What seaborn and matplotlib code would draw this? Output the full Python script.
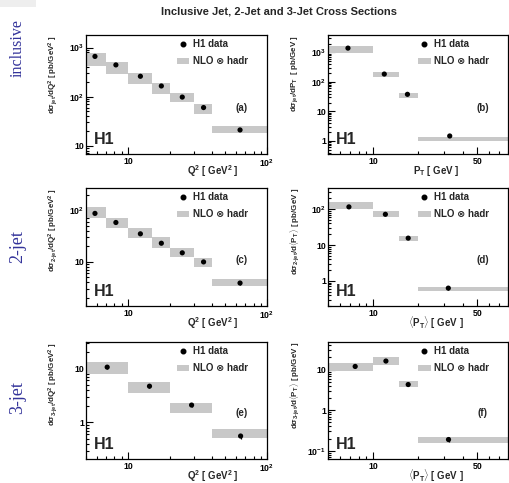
import numpy as np
import pandas as pd
import seaborn as sns
import matplotlib
matplotlib.use("Agg")
import matplotlib.pyplot as plt
from matplotlib.ticker import FixedLocator, LogLocator, FuncFormatter, NullFormatter
from matplotlib.lines import Line2D
from matplotlib.patches import Patch, Rectangle

# ---------------- data ----------------
# bin edges
q2_edges_fine = [5, 7, 10, 15, 20, 30, 40, 100]
q2_edges_3jet = [5, 10, 20, 40, 100]
pt_edges = [5, 10, 15, 20, 80]

# (a) inclusive jet vs Q^2
a_x = [5.8, 8.2, 12.3, 17.4, 24.6, 35.0, 64.0]
a_y = [660, 443, 260, 165, 98, 60, 21]
a_err = [25, 15, 9, 6, 4, 2.5, 1.0]
a_nlo_lo = [430, 290, 180, 114, 77, 45, 18]
a_nlo_hi = [790, 510, 300, 188, 120, 71, 25]

# (b) inclusive jet vs P_T
b_x = [6.8, 11.9, 17.0, 32.6]
b_y = [1400, 185, 38, 1.47]
b_err = [60, 8, 2, 0.12]
b_nlo_lo = [980, 147, 29, 1.02]
b_nlo_hi = [1600, 215, 42, 1.40]

# (c) 2-jet vs Q^2
c_x = [5.8, 8.2, 12.3, 17.4, 24.6, 35.0, 64.0]
c_y = [87, 58, 35, 23, 15, 10, 3.9]
c_err = [4, 2.5, 1.5, 1.0, 0.7, 0.5, 0.25]
c_nlo_lo = [72, 46, 29, 19, 12.6, 7.9, 3.4]
c_nlo_hi = [115, 72, 45, 30, 19, 11.8, 4.6]

# (d) 2-jet vs <P_T>
d_x = [6.9, 12.1, 17.2, 31.9]
d_y = [116, 72, 15.6, 0.63]
d_err = [5, 3, 0.8, 0.06]
d_nlo_lo = [102, 61, 13, 0.51]
d_nlo_hi = [155, 88, 18, 0.68]

# (e) 3-jet vs Q^2
e_x = [7.1, 14.3, 28.7, 64.6]
e_y = [10.6, 4.7, 2.1, 0.56]
e_err = [0.7, 0.3, 0.15, 0.06]
e_nlo_lo = [8.0, 3.5, 1.5, 0.52]
e_nlo_hi = [13.0, 5.6, 2.3, 0.74]

# (f) 3-jet vs <P_T>
f_x = [7.6, 12.2, 17.2, 32.0]
f_y = [12, 16.3, 4.3, 0.19]
f_err = [0.8, 0.9, 0.3, 0.025]
f_nlo_lo = [9.3, 13, 3.7, 0.16]
f_nlo_hi = [15, 20, 5.4, 0.22]

row_labels = ["inclusive", "2-jet", "3-jet"]
panel_tags = ["(a)", "(b)", "(c)", "(d)", "(e)", "(f)"]
title = "Inclusive Jet, 2-Jet and 3-Jet Cross Sections"
legend_labels = ["H1 data", "NLO \u2297 hadr"]

# ---------------- style ----------------
sns.set_theme(style="ticks")
plt.rcParams.update({
    "font.family": ["Liberation Sans", "DejaVu Sans"],
    "font.weight": "bold",
    "axes.labelweight": "bold",
    "mathtext.fontset": "custom",
    "mathtext.rm": "Liberation Sans:bold",
    "mathtext.it": "Liberation Sans:bold",
    "mathtext.bf": "Liberation Sans:bold",
    "mathtext.sf": "Liberation Sans:bold",
    "axes.linewidth": 0.9,
    "axes.edgecolor": "black",
})

BOX = "#c8c8c8"
BLUE = "#33339a"

fig = plt.figure(figsize=(5.10, 4.83), dpi=100)
fig.patches.append(Rectangle((0, 1 - 7 / 483), 36 / 510, 7 / 483,
                             transform=fig.transFigure, facecolor="#eeeeee",
                             edgecolor="none", zorder=0))

W, H = 510, 483
col_x = [(86, 181), (328, 180)]
row_y = [(35, 154), (188, 306), (342, 459)]

panels = [
    dict(x=a_x, y=a_y, err=a_err, lo=a_nlo_lo, hi=a_nlo_hi, edges=q2_edges_fine,
         ylim=(6.8, 1800), kind="q2",
         ylabel=r"d$\sigma_{\rm jet}$/dQ$^{2}$ [ pb/GeV$^{2}$ ]"),
    dict(x=b_x, y=b_y, err=b_err, lo=b_nlo_lo, hi=b_nlo_hi, edges=pt_edges,
         ylim=(0.36, 3900), kind="pt",
         ylabel=r"d$\sigma_{\rm jet}$/dP$_{\rm T}$  [ pb/GeV ]",
         xlabel=r"P$_{\rm T}$ [ GeV ]"),
    dict(x=c_x, y=c_y, err=c_err, lo=c_nlo_lo, hi=c_nlo_hi, edges=q2_edges_fine,
         ylim=(1.4, 270), kind="q2",
         ylabel=r"d$\sigma_{\rm 2\text{-}jet}$/dQ$^{2}$ [ pb/GeV$^{2}$ ]"),
    dict(x=d_x, y=d_y, err=d_err, lo=d_nlo_lo, hi=d_nlo_hi, edges=pt_edges,
         ylim=(0.2, 390), kind="pt",
         ylabel=r"d$\sigma_{\rm 2\text{-}jet}$/d$\langle$P$_{\rm T}\rangle$ [ pb/GeV ]",
         xlabel=r"$\langle$P$_{\rm T}\rangle$ [ GeV ]"),
    dict(x=e_x, y=e_y, err=e_err, lo=e_nlo_lo, hi=e_nlo_hi, edges=q2_edges_3jet,
         ylim=(0.21, 31), kind="q2",
         ylabel=r"d$\sigma_{\rm 3\text{-}jet}$/dQ$^{2}$ [ pb/GeV$^{2}$ ]"),
    dict(x=f_x, y=f_y, err=f_err, lo=f_nlo_lo, hi=f_nlo_hi, edges=pt_edges,
         ylim=(0.063, 48), kind="pt",
         ylabel=r"d$\sigma_{\rm 3\text{-}jet}$/d$\langle$P$_{\rm T}\rangle$ [ pb/GeV ]",
         xlabel=r"$\langle$P$_{\rm T}\rangle$ [ GeV ]"),
]


def log_label(v, pos):
    e = int(round(np.log10(v)))
    if e == 0:
        return "1"
    if e == 1:
        return "10"
    return r"10$^{%d}$" % e


def pt_label(v, pos):
    return "%d" % round(v)


for i, p in enumerate(panels):
    r, c = divmod(i, 2)
    x0, w = col_x[c]
    top, bot = row_y[r]
    ax = fig.add_axes([x0 / W, 1 - bot / H, w / W, (bot - top) / H])
    ax.set_xscale("log")
    ax.set_yscale("log")

    # NLO (x) hadronisation bands
    edges = np.array(p["edges"])
    lo = np.array(p["lo"])
    hi = np.array(p["hi"])
    ax.bar(edges[:-1], hi - lo, width=np.diff(edges), bottom=lo, align="edge",
           color=BOX, edgecolor="none", linewidth=0, zorder=1)

    # H1 data
    df = pd.DataFrame({"x": p["x"], "y": p["y"], "err": p["err"]})
    ax.errorbar(df["x"], df["y"], yerr=df["err"], fmt="none", ecolor="black",
                elinewidth=0.9, capsize=0, zorder=2)
    sns.scatterplot(data=df, x="x", y="y", ax=ax, color="black", s=14,
                    edgecolor="none", zorder=3, legend=False)

    if p["kind"] == "q2":
        ax.set_xlim(5, 100)
        ax.xaxis.set_major_locator(FixedLocator([10, 100]))
        ax.xaxis.set_major_formatter(FuncFormatter(log_label))
        xlabel = r"Q$^{2}$ [ GeV$^{2}$ ]"
        xl_pos = 0.70
    else:
        ax.set_xlim(5, 80)
        ax.xaxis.set_major_locator(FixedLocator([10, 50]))
        ax.xaxis.set_major_formatter(FuncFormatter(pt_label))
        xlabel = p["xlabel"]
        xl_pos = 0.60
    ax.xaxis.set_minor_locator(LogLocator(base=10, subs=np.arange(2, 10)))
    ax.xaxis.set_minor_formatter(NullFormatter())

    ax.set_ylim(*p["ylim"])
    ax.yaxis.set_major_locator(LogLocator(base=10, numticks=10))
    ax.yaxis.set_major_formatter(FuncFormatter(log_label))
    ax.yaxis.set_minor_locator(LogLocator(base=10, subs=np.arange(2, 10), numticks=20))
    ax.yaxis.set_minor_formatter(NullFormatter())

    ax.tick_params(which="both", direction="in", top=False, right=False,
                   labelsize=6.3, width=0.8, colors="black")
    ax.tick_params(which="major", length=5)
    ax.tick_params(which="minor", length=2.5)
    ax.tick_params(axis="x", which="major", pad=2.5)
    ax.tick_params(axis="y", which="major", pad=1.5)
    for t in ax.get_xticklabels() + ax.get_yticklabels():
        t.set_fontweight("bold")

    ax.set_xlabel(xlabel, fontsize=7, fontweight="bold", va="center")
    ax.xaxis.set_label_coords(xl_pos, -17 / (bot - top))
    ax.set_ylabel(p["ylabel"], fontsize=5.8, fontweight="bold", loc="top",
                  va="center")
    ax.yaxis.set_label_coords(-33 / w, 1.0)

    handles = [Line2D([], [], marker="o", color="black", linestyle="none",
                      markersize=3.3),
               Patch(facecolor=BOX, edgecolor="none")]
    ax.legend(handles, legend_labels, loc="upper left",
              bbox_to_anchor=(0.5, 0.965), frameon=False,
              handlelength=1.3, handletextpad=0.35, labelspacing=0.75,
              borderpad=0, borderaxespad=0,
              prop={"weight": "bold", "family": ["Liberation Sans", "DejaVu Sans"],
                    "size": 7})

    ax.text(0.86, 0.39, panel_tags[i], transform=ax.transAxes, fontsize=7,
            fontweight="bold", ha="center", va="center")
    ax.text(0.045, 0.085, "H1", transform=ax.transAxes, fontsize=11.5,
            fontweight="bold", ha="left", va="baseline")

fig.text(279 / W, 1 - 12 / H, title, fontsize=8, fontweight="bold",
         ha="center", va="center")

row_label_y = [48, 247, 398]
row_label_size = [11.5, 13, 13]
for lab, yy, fs in zip(row_labels, row_label_y, row_label_size):
    fig.text(18 / W, 1 - yy / H, lab, rotation=90, fontsize=fs,
             family="Liberation Serif", fontweight="normal", color=BLUE,
             ha="center", va="center")

fig.savefig("out.png", dpi=100)
